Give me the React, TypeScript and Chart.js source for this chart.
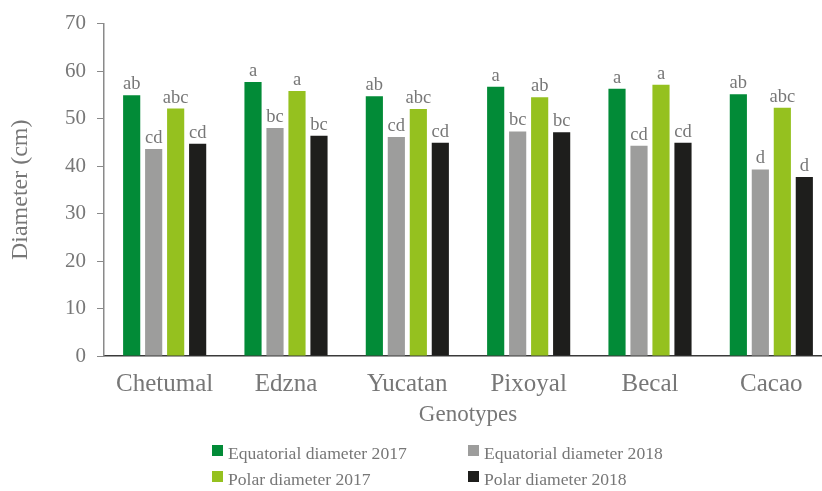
import React, { useEffect, useRef } from "react";
import { Chart, registerables } from "chart.js";

Chart.register(...registerables);

const categories = ["Chetumal", "Edzna", "Yucatan", "Pixoyal", "Becal", "Cacao"];
const seriesNames = [
  "Equatorial diameter 2017",
  "Equatorial diameter 2018",
  "Polar diameter 2017",
  "Polar diameter 2018",
];
const eq2017 = [54.9, 57.7, 54.7, 56.7, 56.3, 55.1];
const eq2018 = [43.6, 48.0, 46.1, 47.3, 44.3, 39.3];
const pol2017 = [52.1, 55.8, 52.0, 54.5, 57.1, 52.3];
const pol2018 = [44.7, 46.4, 44.9, 47.1, 44.9, 37.7];
const eq2017Letters = ["ab", "a", "ab", "a", "a", "ab"];
const eq2018Letters = ["cd", "bc", "cd", "bc", "cd", "d"];
const pol2017Letters = ["abc", "a", "abc", "ab", "a", "abc"];
const pol2018Letters = ["cd", "bc", "cd", "bc", "cd", "d"];
const yTicks = [0, 10, 20, 30, 40, 50, 60, 70];

const colors = ["#028b37", "#9d9d9c", "#95c11f", "#1e1e1c"];
const FONT = "'Liberation Serif', 'Times New Roman', serif";
const TEXT = "#777777";

const letterSets = [eq2017Letters, eq2018Letters, pol2017Letters, pol2018Letters];

const letterPlugin = {
  id: "letters",
  afterDatasetsDraw(chart: any) {
    const ctx = chart.ctx;
    ctx.save();
    ctx.font = `18.5px ${FONT}`;
    ctx.fillStyle = TEXT;
    ctx.textAlign = "center";
    ctx.textBaseline = "alphabetic";
    chart.data.datasets.forEach((_ds: any, di: number) => {
      const meta = chart.getDatasetMeta(di);
      meta.data.forEach((el: any, i: number) => {
        ctx.fillText(letterSets[di][i], el.x, el.y - 6);
      });
    });
    ctx.restore();
  },
};

const gridLegendPlugin = {
  id: "gridLegend",
  afterDraw(chart: any) {
    const ctx = chart.ctx;
    ctx.save();
    ctx.font = `17.6px ${FONT}`;
    ctx.textBaseline = "alphabetic";
    ctx.textAlign = "left";
    const cols = [212, 468];
    const rows = [459, 485];
    chart.data.datasets.forEach((ds: any, di: number) => {
      const col = di % 2;
      const row = Math.floor(di / 2);
      const x = cols[col];
      const y = rows[row];
      ctx.fillStyle = ds.backgroundColor;
      ctx.fillRect(x, y - 14, 11, 11);
      ctx.fillStyle = TEXT;
      ctx.fillText(ds.label, x + 16, y);
    });
    ctx.restore();
  },
};

export default function App() {
  const ref = useRef<HTMLCanvasElement>(null);
  useEffect(() => {
    if (!ref.current) return;
    document.body.style.margin = "0";
    document.body.style.overflow = "hidden";
    const values = [eq2017, eq2018, pol2017, pol2018];
    const chart = new Chart(ref.current, {
      type: "bar",
      data: {
        labels: categories,
        datasets: seriesNames.map((name, i) => ({
          label: name,
          data: values[i],
          backgroundColor: colors[i],
          borderWidth: 0,
          categoryPercentage: 0.725,
          barPercentage: 0.78,
        })),
      },
      options: {
        responsive: false,
        animation: false,
        devicePixelRatio: 1,
        layout: { padding: { top: 17, left: 0, right: 8, bottom: 62 } },
        plugins: {
          legend: { display: false },
          tooltip: { enabled: false },
        },
        scales: {
          x: {
            afterFit: (scale: any) => {
              scale.height = 73;
            },
            grid: { display: false, drawTicks: false },
            border: { display: true, color: "#3a3a3a", width: 1.5 },
            ticks: {
              color: TEXT,
              font: { family: FONT, size: 25 },
              padding: 13,
              maxRotation: 0,
            },
            title: {
              display: true,
              text: "Genotypes",
              color: TEXT,
              font: { family: FONT, size: 23 },
              padding: { top: 4, bottom: 0 },
            },
          },
          y: {
            min: 0,
            max: 70,
            afterBuildTicks: (scale: any) => {
              scale.ticks = yTicks.map((v) => ({ value: v }));
            },
            afterFit: (scale: any) => {
              scale.width = 104;
            },
            grid: {
              drawOnChartArea: false,
              drawTicks: true,
              tickLength: 7,
              color: "#8a8a8a",
            },
            border: { display: true, color: "#8a8a8a", width: 1.5 },
            ticks: {
              color: TEXT,
              font: { family: FONT, size: 21 },
              padding: 11,
            },
            title: {
              display: true,
              text: "Diameter (cm)",
              color: TEXT,
              font: { family: FONT, size: 24 },
              padding: { top: 6, bottom: 0 },
            },
          },
        },
      },
      plugins: [letterPlugin, gridLegendPlugin],
    } as any);
    return () => chart.destroy();
  }, []);
  return (
    <div
      style={{
        position: "fixed",
        left: 0,
        top: 0,
        width: 822,
        height: 491,
        overflow: "hidden",
        background: "#fff",
      }}
    >
      <canvas ref={ref} width={840} height={491} style={{ display: "block" }} />
    </div>
  );
}
